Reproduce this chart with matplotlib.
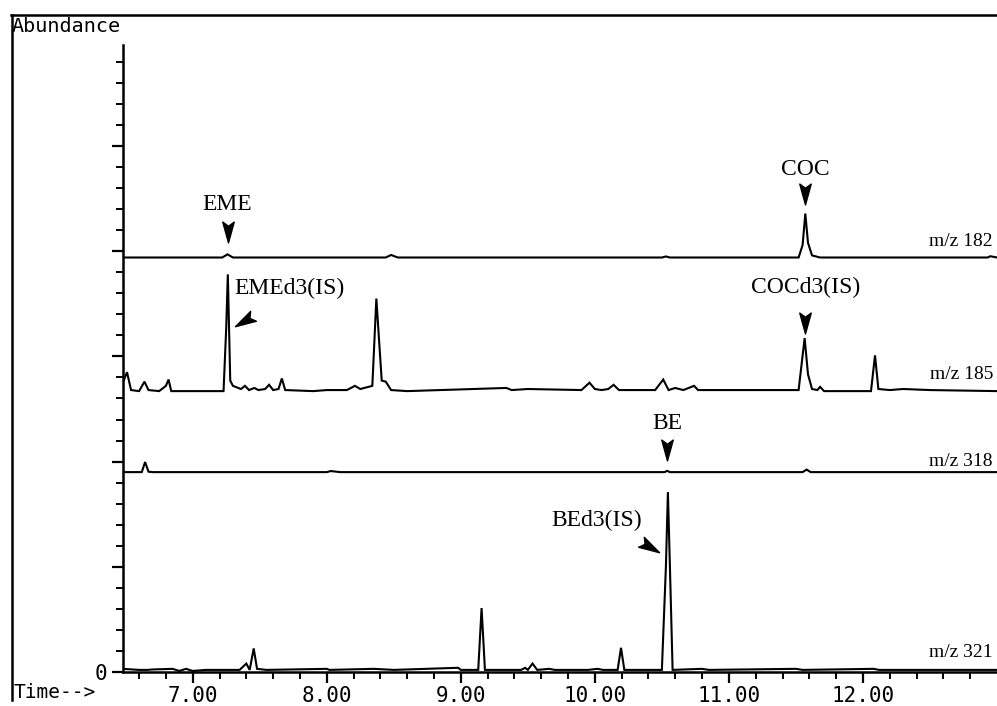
import matplotlib
matplotlib.use("Agg")
import matplotlib.pyplot as plt
import numpy as np
from matplotlib.lines import Line2D
from matplotlib.path import Path
from matplotlib.markers import MarkerStyle
from matplotlib.transforms import Affine2D

# retention time (min) and abundance above each trace's baseline
t_182 = [6.48, 7.22, 7.26, 7.30, 8.44, 8.48, 8.53, 10.50, 10.53, 10.56,
         11.52, 11.55, 11.57, 11.59, 11.62, 11.68, 12.93, 12.95, 13.0]
a_182 = [0.0, 0.0, 0.15, 0.0, 0.0, 0.12, 0.0, 0.0, 0.05, 0.0,
         0.0, 0.6, 2.09, 0.7, 0.1, 0.0, 0.0, 0.06, 0.0]

t_185 = [6.485, 6.51, 6.54, 6.60, 6.64, 6.67, 6.75, 6.80, 6.82, 6.84,
         7.23, 7.25, 7.262, 7.28, 7.30, 7.36, 7.39, 7.42, 7.46, 7.49,
         7.54, 7.57, 7.60, 7.64, 7.665, 7.69, 7.90, 8.00, 8.15, 8.21,
         8.25, 8.34, 8.37, 8.41, 8.44, 8.48, 8.60, 9.34, 9.38, 9.50,
         9.90, 9.96, 10.00, 10.05, 10.10, 10.14, 10.18, 10.45, 10.51, 10.55,
         10.60, 10.66, 10.74, 10.77, 11.10, 11.52, 11.565, 11.59, 11.62, 11.66,
         11.68, 11.71, 12.06, 12.09, 12.115, 12.20, 12.30, 12.50, 13.0]
a_185 = [0.5, 0.9, 0.05, 0.0, 0.45, 0.05, 0.0, 0.25, 0.55, 0.0,
         0.0, 3.0, 5.55, 0.5, 0.25, 0.1, 0.25, 0.05, 0.15, 0.05,
         0.1, 0.3, 0.05, 0.1, 0.6, 0.05, 0.0, 0.05, 0.05, 0.25,
         0.1, 0.25, 4.4, 0.5, 0.45, 0.05, 0.0, 0.15, 0.05, 0.1,
         0.05, 0.4, 0.1, 0.05, 0.1, 0.3, 0.05, 0.05, 0.55, 0.05,
         0.15, 0.05, 0.25, 0.05, 0.05, 0.05, 2.52, 0.8, 0.1, 0.05,
         0.2, 0.0, 0.0, 1.7, 0.1, 0.05, 0.1, 0.05, 0.0]

t_318 = [6.48, 6.62, 6.645, 6.67, 6.70, 8.00, 8.03, 8.10, 10.52, 10.54,
         10.56, 11.55, 11.58, 11.61, 13.0]
a_318 = [0.0, 0.0, 0.48, 0.02, 0.0, 0.0, 0.05, 0.0, 0.0, 0.06,
         0.0, 0.0, 0.12, 0.0, 0.0]

t_321 = [6.48, 6.60, 6.66, 6.70, 6.85, 6.90, 6.95, 7.00, 7.10, 7.35,
         7.40, 7.425, 7.455, 7.48, 7.55, 8.00, 8.02, 8.35, 8.50, 8.98,
         9.00, 9.13, 9.155, 9.18, 9.45, 9.48, 9.50, 9.535, 9.57, 9.66,
         9.70, 9.95, 10.02, 10.06, 10.17, 10.195, 10.22, 10.50, 10.53, 10.545,
         10.56, 10.58, 10.80, 10.85, 11.50, 11.55, 12.08, 12.12, 13.0]
a_321 = [0.15, 0.1, 0.1, 0.12, 0.15, 0.05, 0.15, 0.05, 0.1, 0.1,
         0.4, 0.1, 1.12, 0.15, 0.1, 0.15, 0.1, 0.15, 0.1, 0.2,
         0.1, 0.1, 3.04, 0.1, 0.1, 0.2, 0.1, 0.4, 0.1, 0.15,
         0.1, 0.1, 0.15, 0.1, 0.1, 1.15, 0.1, 0.1, 5.0, 8.55,
         5.0, 0.1, 0.15, 0.1, 0.15, 0.1, 0.15, 0.1, 0.1]

traces = [("m/z 182", t_182, a_182, 19.7, 20.45),
          ("m/z 185", t_185, a_185, 13.35, 14.15),
          ("m/z 318", t_318, a_318, 9.5, 10.0),
          ("m/z 321", t_321, a_321, 0.0, 0.95)]

# compound labels: text, text x, text y, ha, arrow x, arrow y, arrow angle
labels = [("EME", 7.26, 22.2, "center", 7.26, 20.9, 0),
          ("COC", 11.57, 23.9, "center", 11.57, 22.7, 0),
          ("EMEd3(IS)", 7.31, 18.25, "left", 7.38, 16.7, -60),
          ("COCd3(IS)", 11.57, 18.3, "center", 11.57, 16.6, 0),
          ("BE", 10.54, 11.8, "center", 10.54, 10.55, 0),
          ("BEd3(IS)", 10.35, 7.2, "right", 10.41, 5.94, 60)]

x_major = [7, 8, 9, 10, 11, 12]
x_labels = ["7.00", "8.00", "9.00", "10.00", "11.00", "12.00"]

mono = "DejaVu Sans Mono"
serif = "Liberation Serif"

fig = plt.figure(figsize=(9.97, 7.06), dpi=100)
ax = fig.add_axes([123 / 997, 1 - 672 / 706, 1 - 123 / 997, 627 / 706])

for name, t, a, base, ly in traces:
    ax.plot(t, np.array(a) + base, color="black", lw=1.5, solid_joinstyle="miter")
    ax.text(12.97, ly, name, ha="right", va="center", fontsize=14,
            family=serif)

# notched arrowhead pointing down
head = Path([(0, -1), (0.55, 1), (0, 0.6), (-0.55, 1), (0, -1)],
            [Path.MOVETO, Path.LINETO, Path.LINETO, Path.LINETO, Path.CLOSEPOLY])
for txt, tx, ty, ha, axx, axy, ang in labels:
    ax.text(tx, ty, txt, ha=ha, va="center", fontsize=17, family=serif)
    m = MarkerStyle(head, transform=Affine2D().rotate_deg(ang))
    ax.plot(axx, axy, marker=m, markersize=15, color="black", ls="none")

ax.set_xlim(6.48, 13.0)
ax.set_ylim(0, 29.8)
ax.set_xticks(x_major)
ax.set_xticklabels(x_labels, family=mono, fontsize=15)
ax.set_xticks(np.arange(6.6, 13.0, 0.2), minor=True)
ax.set_yticks(np.arange(0, 30, 5))
ax.set_yticklabels(["0"] + [""] * 5, family=mono, fontsize=15)
ax.set_yticks(np.arange(0, 30, 1), minor=True)
ax.tick_params(which="major", length=8, width=1.6, direction="out", pad=2)
ax.tick_params(which="minor", length=5, width=1.4, direction="out")
ax.tick_params(axis="y", which="major", pad=3)
for side in ["top", "right"]:
    ax.spines[side].set_visible(False)
for side in ["left", "bottom"]:
    ax.spines[side].set_linewidth(1.8)

# outer frame of the printout
fig.add_artist(Line2D([11 / 997, 1.0], [1 - 15 / 706] * 2, color="black", lw=1.8))
fig.add_artist(Line2D([12 / 997] * 2, [1 - 15 / 706, 1 - 700 / 706], color="black", lw=1.8))

fig.text(12 / 997, 1 - 27 / 706, "Abundance", family=mono, fontsize=14.5,
         ha="left", va="center")
fig.text(13 / 997, 1 - 693 / 706, "Time-->", family=mono, fontsize=14,
         ha="left", va="center")

fig.savefig("out.png", dpi=100)
